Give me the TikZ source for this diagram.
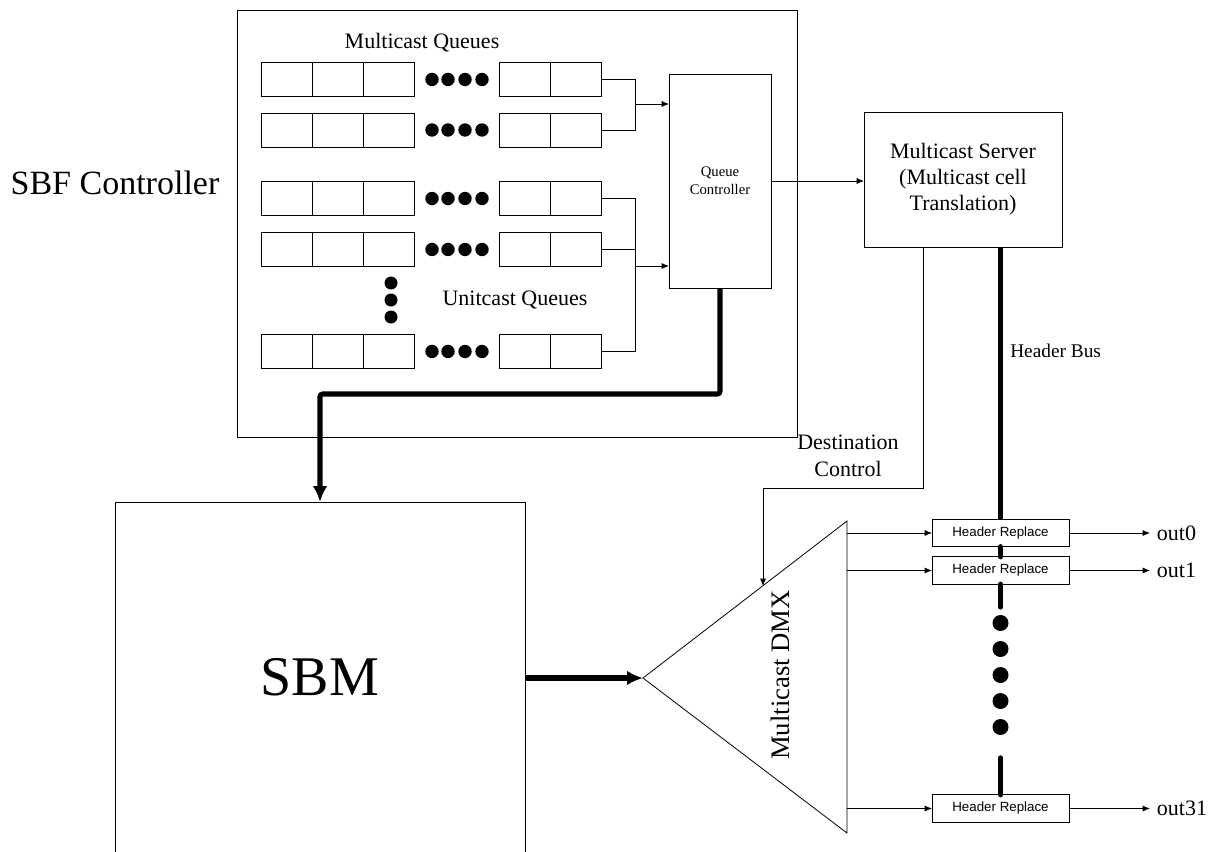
\documentclass[tikz,border=0pt]{standalone}
\usepackage{fontspec}
\setmainfont{Liberation Serif}
\newfontfamily\hrfont{Liberation Sans}
\usetikzlibrary{arrows.meta}

\begin{document}
\begin{tikzpicture}[x=0.75pt,y=-0.75pt,
  thinl/.style={line width=0.6pt},
  tipthin/.style={thinl,-{Latex[length=5.5pt,width=4.5pt]}},
  heavy/.style={line width=3.8pt},
  tipthick/.style={heavy,-{Latex[length=12pt,width=11pt]}},
  cell/.style={draw,thinl,inner sep=0pt,outer sep=0pt,minimum width=38.25pt,minimum height=25.5pt},
  block/.style={draw,thinl,inner sep=0pt,outer sep=0pt,align=center},
  hrbox/.style={draw,thinl,inner sep=0pt,outer sep=0pt,minimum width=102.75pt,minimum height=20.5pt,font=\hrfont\fontsize{10pt}{12pt}\selectfont},
  lbl/.style={font=\fontsize{16.5pt}{20pt}\selectfont,align=center,inner sep=0pt},
  outlbl/.style={font=\fontsize{16.5pt}{20pt}\selectfont,anchor=west,inner sep=5pt},
  dot/.style={fill=black}
]
\useasboundingbox (0,0) rectangle (1216,852);

% SBF controller frame
\draw[thinl] (237,10) rectangle (797,437);
\node[font=\fontsize{25.5pt}{30pt}\selectfont,inner sep=0pt] (sbf) at (115,183) {SBF Controller};

% queue rows
\foreach \r/\y in {1/79.5,2/130,3/198.5,4/249.5,5/351.5}{
  \foreach \c/\x in {a/286.5,b/337.5,c/388.5,d/524.5,e/575.5}
    \node[cell] (q\r\c) at (\x,\y) {};
  \foreach \x in {432,448,465,482}
    \fill[dot] (\x,\y) circle[radius=6.7];
}
\foreach \y in {283,300,317}
  \fill[dot] (391,\y) circle[radius=6.5];

\node[lbl] (mcq) at (422,43) {Multicast Queues};
\node[lbl] (ucq) at (515,300) {Unitcast Queues};

% queue controller and multicast server
\node[block,minimum width=76.5pt,minimum height=160.5pt,
      font=\fontsize{11pt}{13.5pt}\selectfont] (qc) at (720,181) {Queue\\Controller};
\node[block,minimum width=148.5pt,minimum height=101.25pt,
      font=\fontsize{16.5pt}{19.5pt}\selectfont] (ms) at (963,179.5)
      {Multicast Server\\(Multicast cell\\Translation)};

% queue brackets into the controller
\coordinate (mb) at (635,104);
\coordinate (ub) at (635,266);
\draw[thinl] (q1e.east) -| (mb);
\draw[thinl] (q2e.east) -| (mb);
\draw[tipthin] (mb) -- (mb -| qc.west);
\draw[thinl] (q3e.east) -| (ub);
\draw[thinl] (q5e.east) -| (ub);
\draw[thinl] (q4e.east) -- (q4e.east -| ub);
\draw[tipthin] (ub) -- (ub -| qc.west);

\draw[tipthin] (qc.east) -- (qc.east -| ms.west);

% SBM block, open at the bottom
\draw[thinl] (115,852) -- (115,502) -- (525,502) -- (525,852);
\node[font=\fontsize{42pt}{48pt}\selectfont,inner sep=0pt] (sbm) at (320,677) {SBM};
\coordinate (sbmT) at (320,502);
\coordinate (sbmR) at (525,678);

% cell path from the queue controller to the SBM
\draw[tipthick,rounded corners=2pt] (qc.south) -- ++(0,106) -| (sbmT);

% multicast demultiplexer
\coordinate (dmxL) at (643,678);
\coordinate (dmxT) at (847,521);
\coordinate (dmxB) at (847,833);
\draw[thinl] (dmxL) -- (dmxT) -- (dmxB) -- cycle;
\node[font=\fontsize{20pt}{24pt}\selectfont,rotate=90,inner sep=0pt] (dmxlbl) at (780,675) {Multicast DMX};
\coordinate (dmxTip) at (763,586);
\draw[tipthick] (sbmR) -- (dmxL);

% destination control
\coordinate (dcA) at (923,247);
\draw[tipthin] (dcA) -- ++(0,241) -| (dmxTip);
\node[lbl,font=\fontsize{16.5pt}{20pt}\selectfont] (dcl) at (848,456) {Destination\\Control};

% header replace units
\node[hrbox] (hr1) at (1000.5,533) {Header Replace};
\node[hrbox] (hr2) at (1000.5,570.5) {Header Replace};
\node[hrbox] (hr3) at (1000.5,808.5) {Header Replace};

\draw[tipthin] (hr1.west -| dmxT) -- (hr1.west);
\draw[tipthin] (hr2.west -| dmxT) -- (hr2.west);
\draw[tipthin] (hr3.west -| dmxT) -- (hr3.west);

% header bus
\draw[heavy] (hr1.north |- dcA) -- (hr1.north);
\draw[heavy,line cap=round] (hr1.south) -- (hr2.north);
\draw[heavy,line cap=round] (hr2.south) -- ++(0,23);
\draw[heavy,line cap=round] (hr3.north) -- ++(0,-37);
\foreach \y in {623,649,675,701,727}
  \fill[dot] (1000.5,\y) circle[radius=8];
\node[font=\fontsize{14.5pt}{17pt}\selectfont,anchor=west,inner sep=0pt] (hbus) at (1010,351) {Header Bus};

% outputs
\node[outlbl] (o0) at (1150,533) {out0};
\node[outlbl] (o1) at (1150,570.5) {out1};
\node[outlbl] (o31) at (1150,808.5) {out31};
\draw[tipthin] (hr1.east) -- (o0.west);
\draw[tipthin] (hr2.east) -- (o1.west);
\draw[tipthin] (hr3.east) -- (o31.west);
\end{tikzpicture}
\end{document}
